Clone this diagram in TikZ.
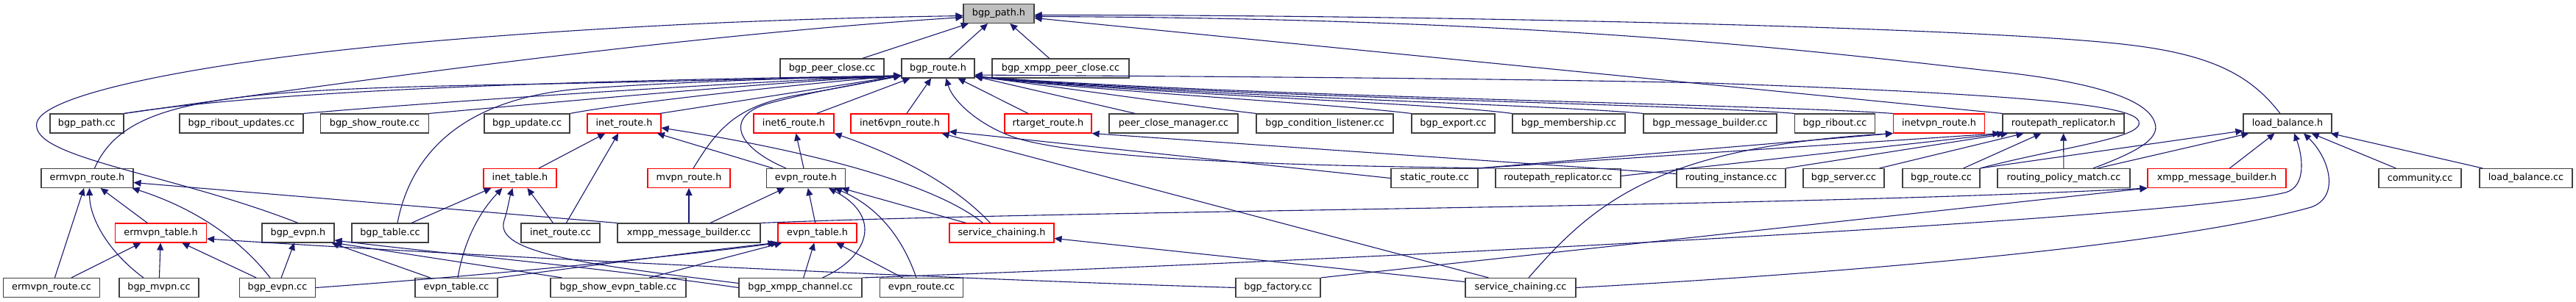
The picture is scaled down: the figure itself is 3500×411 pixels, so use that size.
\documentclass[tikz,border=0pt]{standalone}
\usepackage{fontspec}
\setmainfont{DejaVu Sans}
\usetikzlibrary{arrows.meta,calc}
\definecolor{edgec}{HTML}{191970}
\definecolor{bord}{HTML}{404040}
\definecolor{rootfill}{HTML}{BFBFBF}
\begin{document}
\begin{tikzpicture}[x=1pt,y=-1pt,
  nb/.style={draw=bord, line width=1.1pt, minimum height=26pt, inner sep=0pt, fill=white, text=black, font=\fontsize{12.8}{15}\selectfont},
  nr/.style={nb, draw=red},
  e/.style={draw=edgec, line width=1.1pt, -{Triangle[length=10pt,width=9pt]}}]
\fill[white] (0,0) rectangle (3500,411);
\useasboundingbox (0,0) rectangle (3500,411);
% row 0-1
\node[nb,fill=rootfill,minimum width=96pt] (Bph) at (1357,18.5) {bgp\_path.h};
\node[nb,minimum width=141pt] (Bpcc) at (1130.5,93) {bgp\_peer\_close.cc};
\node[nb,minimum width=99pt] (Brh) at (1274.5,93) {bgp\_route.h};
\node[nb,minimum width=186pt] (Bxpc) at (1441,93) {bgp\_xmpp\_peer\_close.cc};
% row 2
\node[nb,minimum width=100pt] (Bpathcc) at (118,168) {bgp\_path.cc};
\node[nb,minimum width=168pt] (Briu) at (328,168) {bgp\_ribout\_updates.cc};
\node[nb,minimum width=147pt] (Bshr) at (509,168) {bgp\_show\_route.cc};
\node[nb,minimum width=116pt] (Bupd) at (716,168) {bgp\_update.cc};
\node[nr,minimum width=100pt] (Inrh) at (848,168) {inet\_route.h};
\node[nr,minimum width=109pt] (In6rh) at (1078.5,168) {inet6\_route.h};
\node[nr,minimum width=133pt] (In6vh) at (1222.5,168) {inet6vpn\_route.h};
\node[nr,minimum width=118pt] (Rth) at (1424,168) {rtarget\_route.h};
\node[nb,minimum width=175pt] (Pcm) at (1594.5,168) {peer\_close\_manager.cc};
\node[nb,minimum width=186pt] (Bcl) at (1800,168) {bgp\_condition\_listener.cc};
\node[nb,minimum width=113pt] (Bexp) at (1974.5,168) {bgp\_export.cc};
\node[nb,minimum width=153pt] (Bmem) at (2131.5,168) {bgp\_membership.cc};
\node[nb,minimum width=181pt] (Bmb) at (2323.5,168) {bgp\_message\_builder.cc};
\node[nb,minimum width=109pt] (Brib) at (2493,168) {bgp\_ribout.cc};
\node[nr,minimum width=124pt] (Invh) at (2634.5,168) {inetvpn\_route.h};
\node[nb,minimum width=165pt] (Rrh) at (2803.5,168) {routepath\_replicator.h};
\node[nb,minimum width=120pt] (Lbh) at (3108,168) {load\_balance.h};
% row 3
\node[nb,minimum width=125pt] (Erh) at (118.5,242.5) {ermvpn\_route.h};
\node[nr,minimum width=99pt] (Ith) at (706.5,242.5) {inet\_table.h};
\node[nr,minimum width=112pt] (Mrh) at (936,242.5) {mvpn\_route.h};
\node[nb,minimum width=107pt] (Evrh) at (1095,242.5) {evpn\_route.h};
\node[nb,minimum width=118pt] (Src) at (1949,242.5) {static\_route.cc};
\node[nb,minimum width=170pt] (Rrcc) at (2117,242.5) {routepath\_replicator.cc};
\node[nb,minimum width=148pt] (Ric) at (2352,242.5) {routing\_instance.cc};
\node[nb,minimum width=110pt] (Bsrv) at (2505,242.5) {bgp\_server.cc};
\node[nb,minimum width=105pt] (Brcc) at (2637.5,242.5) {bgp\_route.cc};
\node[nb,minimum width=180pt] (Rpm) at (2804,242.5) {routing\_policy\_match.cc};
\node[nr,minimum width=188pt] (Xmbh) at (3012,242.5) {xmpp\_message\_builder.h};
\node[nb,minimum width=112pt] (Comm) at (3288,242.5) {community.cc};
\node[nb,minimum width=126pt] (Lbcc) at (3432,242.5) {load\_balance.cc};
% row 4
\node[nr,minimum width=124pt] (Eth) at (218.5,317) {ermvpn\_table.h};
\node[nb,minimum width=98pt] (Bevh) at (405,317) {bgp\_evpn.h};
\node[nb,minimum width=104pt] (Btcc) at (530,317) {bgp\_table.cc};
\node[nb,minimum width=107pt] (Ircc) at (761.5,317) {inet\_route.cc};
\node[nb,minimum width=194pt] (Xmbcc) at (936,317) {xmpp\_message\_builder.cc};
\node[nr,minimum width=107pt] (Evth) at (1110.5,317) {evpn\_table.h};
\node[nr,minimum width=142pt] (Sch) at (1361,317) {service\_chaining.h};
% row 5
\node[nb,minimum width=131pt] (Ercc) at (70,391.5) {ermvpn\_route.cc};
\node[nb,minimum width=108pt] (Bmvpn) at (216,391.5) {bgp\_mvpn.cc};
\node[nb,minimum width=103pt] (Bevcc) at (377,391.5) {bgp\_evpn.cc};
\node[nb,minimum width=112pt] (Evtcc) at (620,391.5) {evpn\_table.cc};
\node[nb,minimum width=184pt] (Bsevt) at (840,391.5) {bgp\_show\_evpn\_table.cc};
\node[nb,minimum width=167pt] (Bxch) at (1087.5,391.5) {bgp\_xmpp\_channel.cc};
\node[nb,minimum width=113pt] (Evrcc) at (1252,391.5) {evpn\_route.cc};
\node[nb,minimum width=115pt] (Bfac) at (1736.5,391.5) {bgp\_factory.cc};
\node[nb,minimum width=150pt] (Sccc) at (2066,391.5) {service\_chaining.cc};

% ---- edges to bgp_path.h
\draw[e] (Bpcc) -- (Bph);
\draw[e] (Brh) -- (Bph);
\draw[e] (Bxpc) -- (Bph);
\draw[e] (Bpathcc.north east) .. controls (450,115) and (900,50) .. ($(Bph.west)+(0,5)$);
\draw[e] (Bevh.north) .. controls (230,235) and (40,215) .. (50,167) .. controls (60,125) and (300,80) .. (600,55) .. controls (900,30) and (1150,24) .. ($(Bph.west)+(0,3)$);
\draw[e] ($(Lbh.north)+(-10,0)$) .. controls (3060,105) and (3010,76) .. (2900,62) .. controls (2700,36) and (1900,20) .. ($(Bph.east)+(0,2)$);
\draw[e] ($(Rpm.north)+(40,0)$) .. controls (2900,208) and (2935,190) .. (2928,168) .. controls (2918,130) and (2820,108) .. (2700,96) .. controls (2450,68) and (2100,25) .. ($(Bph.east)+(0,4)$);
\draw[e] (Rrh.north west) -- ($(Bph.east)+(0,6)$);

% ---- edges to bgp_route.h (left)
\draw[e] (Bpathcc.north east) .. controls (400,118) and (900,108) .. ($(Brh.west)+(0,10)$);
\draw[e] (Briu.north east) .. controls (600,138) and (1000,112) .. ($(Brh.west)+(0,10)$);
\draw[e] (Bshr.north east) .. controls (800,135) and (1050,112) .. ($(Brh.west)+(0,10)$);
\draw[e] (Bupd.north east) .. controls (850,140) and (1080,115) .. ($(Brh.west)+(0,10)$);
\draw[e] ($(Inrh.north east)+(-2,0)$) -- ($(Brh.west)+(0,10)$);
\draw[e] ($(Erh.north)+(10,0)$) .. controls (170,135) and (300,122) .. (700,115) .. controls (900,111) and (1100,106) .. ($(Brh.west)+(0,10)$);
\draw[e] ($(Btcc.north)+(10,0)$) .. controls (560,200) and (640,130) .. (800,120) .. controls (950,110) and (1100,106) .. ($(Brh.west)+(0,10)$);
\draw[e] ($(Mrh.north)+(6,0)$) .. controls (975,175) and (1000,145) .. (1080,130) .. controls (1150,118) and (1200,108) .. ($(Brh.west)+(0,10)$);
\draw[e] ($(Evrh.north)+(-27,0)$) .. controls (1000,200) and (985,160) .. (1040,142) .. controls (1100,125) and (1180,112) .. ($(Brh.west)+(0,10)$);
\draw[e] ($(In6rh.north)+(31,0)$) -- ($(Brh.south west)+(12,0)$);
\draw[e] (In6vh) -- (Brh);
\draw[e] (Rth) -- (Brh);
% ---- edges to bgp_route.h (right)
\draw[e] ($(Pcm.north west)+(36,0)$) -- ($(Brh.east)+(0,11)$);
\draw[e] (Bcl.north west) .. controls (1600,142) and (1450,120) .. ($(Brh.east)+(0,11)$);
\draw[e] (Bexp.north west) .. controls (1800,140) and (1500,125) .. ($(Brh.east)+(0,11)$);
\draw[e] (Bmem.north west) .. controls (1950,140) and (1550,128) .. ($(Brh.east)+(0,11)$);
\draw[e] (Bmb.north west) .. controls (2100,142) and (1600,130) .. ($(Brh.east)+(0,11)$);
\draw[e] (Brib.north west) .. controls (2300,142) and (1650,132) .. ($(Brh.east)+(0,11)$);
\draw[e] (Invh.north west) .. controls (2400,142) and (1700,132) .. ($(Brh.east)+(0,11)$);
\draw[e] (Brcc.north east) .. controls (2800,200) and (2915,188) .. (2906,165) .. controls (2898,146) and (2800,130) .. (2320,113) .. controls (2000,106) and (1600,104) .. ($(Brh.east)+(0,9)$);
\draw[e] (Rrcc.north west) .. controls (1700,225) and (1500,215) .. (1400,193) .. controls (1340,180) and (1295,140) .. ($(Brh.south)+(11,0)$);

% ---- inet6vpn_route.h, rtarget_route.h
\draw[e] (Src.west) -- ($(In6vh.east)+(0,11)$);
\draw[e] ($(Sccc.north west)+(32,0)$) -- ($(In6vh.south east)+(-10,0)$);
\draw[e] ($(Ric.west)+(0,-6)$) -- (Rth.south east);

% ---- inetvpn_route.h, routepath_replicator.h
\draw[e] (Src.north east) -- (Invh.south west);
\draw[e] (Src.north east) -- ($(Rrh.south west)+(-3,0)$);
\draw[e] ($(Rrcc.east)+(0,-3)$) -- ($(Rrh.south west)+(3,0)$);
\draw[e] ($(Sccc.north)+(11,0)$) .. controls (2170,270) and (2260,200) .. (Invh.south west);
\draw[e] (Ric.north east) -- ($(Rrh.south west)+(8,0)$);
\draw[e] ($(Bsrv.north east)+(-7,0)$) -- ($(Rrh.south west)+(29,0)$);
\draw[e] (Brcc) -- (Rrh);
\draw[e] (Rpm) -- (Rrh);

% ---- load_balance.h
\draw[e] (Brcc.north east) -- ($(Lbh.west)+(0,10)$);
\draw[e] ($(Rpm.north)+(46,0)$) -- ($(Lbh.south west)+(8,0)$);
\draw[e] (Xmbh) -- (Lbh);
\draw[e] (Comm) -- (Lbh);
\draw[e] (Lbcc) -- (Lbh);
\draw[e] (Bxch.north east) .. controls (1700,360) and (2950,300) .. (3105,262) .. controls (3135,254) and (3128,210) .. ($(Lbh.south)+(9,0)$);
\draw[e] (Sccc.east) .. controls (2500,372) and (2950,335) .. (3140,282) .. controls (3180,268) and (3165,215) .. ($(Lbh.south)+(22,0)$);

% ---- xmpp_message_builder.h
\draw[e] (Xmbcc.north east) .. controls (1500,285) and (2400,283) .. (Xmbh.south west);
\draw[e] (Bfac.north east) -- (Xmbh.south west);

% ---- service_chaining.h
\draw[e] (Sccc) -- (Sch);
\draw[e] (Sch) -- (Evrh);
\draw[e] ($(Sch.north west)+(46,0)$) .. controls (1270,250) and (1100,205) .. ($(Inrh.east)+(0,6)$);
\draw[e] ($(Sch.north west)+(56,0)$) .. controls (1300,255) and (1230,215) .. (In6rh.south east);

% ---- evpn_route.h
\draw[e] (Xmbcc) -- (Evrh);
\draw[e] (Evth) -- (Evrh);
\draw[e] ($(Bxch.north)+(30,0)$) .. controls (1180,350) and (1200,295) .. ($(Evrh.south)+(31,0)$);
\draw[e] ($(Evrcc.north)+(-7,0)$) .. controls (1225,320) and (1190,280) .. ($(Evrh.south)+(39,0)$);
\draw[e] (Evrh) -- (Inrh);
\draw[e] (Evrh) -- (In6rh);

% ---- evpn_table.h
\draw[e] (Bxch) -- (Evth);
\draw[e] (Evrcc) -- (Evth);
\draw[e] (Evtcc.north east) .. controls (800,362) and (950,342) .. ($(Evth.south west)+(-3,0)$);
\draw[e] ($(Bsevt.north)+(42,0)$) -- ($(Evth.south west)+(6,0)$);
\draw[e] (Bevcc.east) .. controls (700,372) and (950,345) .. ($(Evth.south west)+(1,0)$);

% ---- bgp_evpn.h
\draw[e] (Bevcc) -- (Bevh);
\draw[e] ($(Evtcc.north west)+(21,0)$) -- ($(Bevh.south east)+(-4,0)$);
\draw[e] ($(Bsevt.north west)+(16,0)$) -- (Bevh.south east);
\draw[e] (Bxch.west) .. controls (800,362) and (600,345) .. ($(Bevh.east)+(0,10)$);

% ---- inet_table.h, inet_route.h, mvpn_route.h
\draw[e] ($(Btcc.north)+(29,0)$) -- ($(Ith.south west)+(11,0)$);
\draw[e] ($(Evtcc.north)+(2,0)$) .. controls (630,330) and (650,290) .. ($(Ith.south west)+(26,0)$);
\draw[e] (Ircc) -- (Ith);
\draw[e] ($(Bxch.west)+(0,-6)$) .. controls (800,360) and (670,345) .. (685,300) .. controls (690,285) and (692,270) .. ($(Ith.south)+(-10,0)$);
\draw[e] (Ith) -- (Inrh);
\draw[e] (Ircc) -- (Inrh);
\draw[e] (Xmbcc) -- (Mrh);

% ---- ermvpn
\draw[e] (Ercc) -- (Erh);
\draw[e] ($(Bmvpn.north)+(-21,0)$) .. controls (150,345) and (122,300) .. ($(Erh.south)+(3,0)$);
\draw[e] (Eth) -- (Erh);
\draw[e] ($(Bevcc.north)+(-10,0)$) .. controls (330,330) and (270,285) .. ($(Erh.south east)+(-2,0)$);
\draw[e] (Xmbcc.north west) -- ($(Erh.east)+(0,6)$);
\draw[e] (Ercc) -- (Eth);
\draw[e] (Bmvpn) -- (Eth);
\draw[e] (Bevcc) -- (Eth);
\draw[e] (Bfac.west) .. controls (1300,380) and (700,352) .. ($(Eth.east)+(0,8)$);
\end{tikzpicture}
\end{document}
